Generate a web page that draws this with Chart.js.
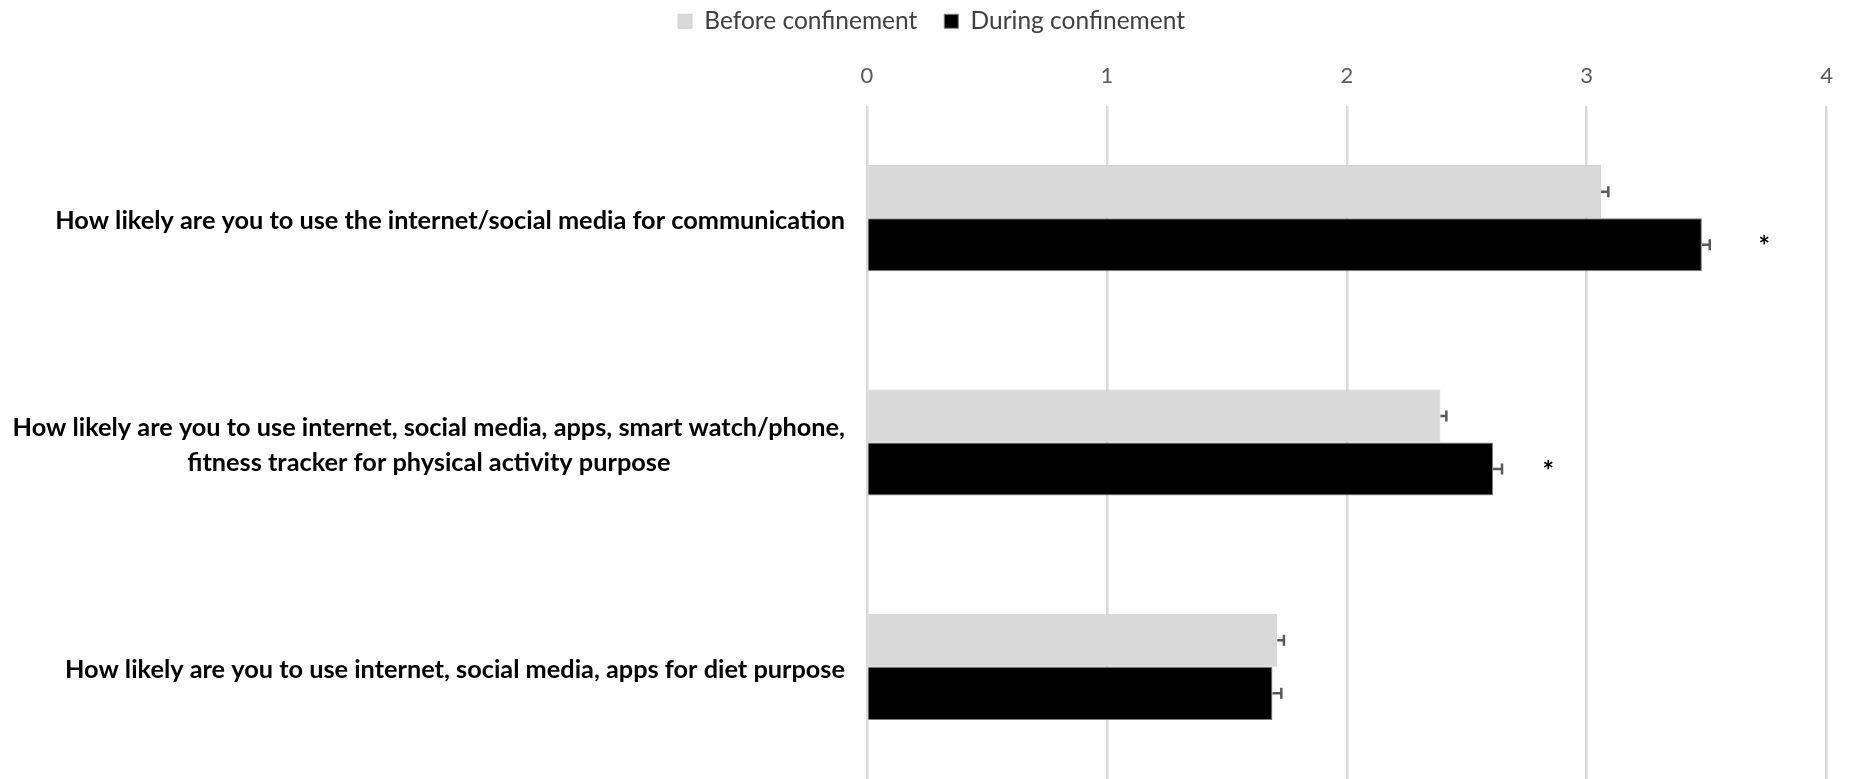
<!DOCTYPE html>
<html>
<head>
<meta charset="utf-8">
<script src="https://cdn.jsdelivr.net/npm/chart.js@4.4.1/dist/chart.umd.min.js"></script>
<style>
  html, body { margin: 0; padding: 0; background: #fff; }
  #wrap { width: 1850px; height: 779px; }
</style>
</head>
<body>
<div id="wrap"><canvas id="chart" width="1850" height="779"></canvas></div>
<script>
/* --- Data --- */
var CATEGORIES = [
  ["How likely are you to use the internet/social media for communication"],
  ["How likely are you to use internet, social media, apps, smart watch/phone,",
   "fitness tracker for physical activity purpose"],
  ["How likely are you to use internet, social media, apps for diet purpose"]
];
var SERIES_NAMES = ["Before confinement", "During confinement"];
var BEFORE = [3.06, 2.39, 1.71];
var DURING = [3.48, 2.61, 1.69];
var BEFORE_SE = [0.03, 0.025, 0.028];
var DURING_SE = [0.033, 0.037, 0.037];
var STAR_X = [3.74, 2.84, null];
var X_TICKS = [0, 1, 2, 3, 4];

var LABEL_FONT = 'bold 25.3px Lato, "Open Sans", sans-serif';
var PLOT_TOP = 106;
var PLOT_LEFT = 867;
var PAD_TOP = -18;
var PAD_LEFT = 24;

/* error bars (plus side, capped) + significance stars */
var errorBars = {
  id: "errorBars",
  afterDatasetsDraw: function (chart) {
    var ctx = chart.ctx;
    var xs = chart.scales.x;
    var ses = [BEFORE_SE, DURING_SE];
    ctx.save();
    ctx.strokeStyle = "#595959";
    ctx.lineWidth = 2.5;
    chart.data.datasets.forEach(function (ds, di) {
      var meta = chart.getDatasetMeta(di);
      meta.data.forEach(function (bar, i) {
        var x0 = xs.getPixelForValue(ds.data[i]);
        var x1 = xs.getPixelForValue(ds.data[i] + ses[di][i]);
        ctx.beginPath();
        ctx.moveTo(x0, bar.y);
        ctx.lineTo(x1, bar.y);
        ctx.moveTo(x1, bar.y - 5.5);
        ctx.lineTo(x1, bar.y + 5.5);
        ctx.stroke();
      });
    });
    var meta2 = chart.getDatasetMeta(1);
    ctx.fillStyle = "#000";
    ctx.font = "bold 27px Lato, sans-serif";
    ctx.textAlign = "center";
    ctx.textBaseline = "middle";
    STAR_X.forEach(function (v, i) {
      if (v === null) return;
      ctx.fillText("*", xs.getPixelForValue(v), meta2.data[i].y + 2);
    });
    ctx.restore();
  }
};

/* category labels: block right-aligned, lines centred within it */
var catLabels = {
  id: "catLabels",
  afterDraw: function (chart) {
    var ctx = chart.ctx;
    var ys = chart.scales.y;
    var right = chart.chartArea.left - 22;
    var lineH = 35;
    ctx.save();
    ctx.font = LABEL_FONT;
    ctx.fillStyle = "#000";
    ctx.textAlign = "center";
    ctx.textBaseline = "middle";
    CATEGORIES.forEach(function (lines, i) {
      var w = 0;
      lines.forEach(function (t) { w = Math.max(w, ctx.measureText(t).width); });
      var cx = right - w / 2;
      var y0 = ys.getPixelForValue(i) + 3 - (lines.length - 1) * lineH / 2;
      lines.forEach(function (t, k) {
        ctx.fillText(t, cx, y0 + k * lineH);
      });
    });
    ctx.restore();
  }
};

new Chart(document.getElementById("chart"), {
  type: "bar",
  data: {
    labels: CATEGORIES.map(function (c) { return c.join(" "); }),
    datasets: [
      {
        label: SERIES_NAMES[0],
        data: BEFORE,
        backgroundColor: "#d9d9d9",
        borderColor: "#d0d0d0",
        borderWidth: 1,
        barPercentage: 1,
        categoryPercentage: 0.473
      },
      {
        label: SERIES_NAMES[1],
        data: DURING,
        backgroundColor: "#000000",
        borderColor: "#7f7f7f",
        borderWidth: 1,
        barPercentage: 1,
        categoryPercentage: 0.473
      }
    ]
  },
  options: {
    indexAxis: "y",
    responsive: false,
    animation: false,
    layout: { padding: { left: PAD_LEFT, right: 11, top: PAD_TOP, bottom: 0 } },
    plugins: {
      legend: {
        position: "top",
        labels: {
          color: "#404040",
          font: { family: "Lato, sans-serif", size: 24.5 },
          boxWidth: 14,
          boxHeight: 14,
          padding: 27
        }
      },
      tooltip: { enabled: false }
    },
    scales: {
      x: {
        position: "top",
        min: 0,
        max: 4,
        afterBuildTicks: function (s) {
          s.ticks = X_TICKS.map(function (v) { return { value: v }; });
        },
        afterFit: function (s) {
          var lh = s.chart.legend ? s.chart.legend.height : 0;
          s.height = PLOT_TOP - PAD_TOP - lh;
        },
        grid: { color: "#d9d9d9", lineWidth: 2.5, drawTicks: false },
        border: { display: false },
        ticks: {
          color: "#595959",
          font: { family: "Lato, sans-serif", size: 22 },
          padding: 17
        }
      },
      y: {
        grid: { display: false },
        border: { display: false },
        ticks: { display: false },
        afterFit: function (s) { s.width = PLOT_LEFT - PAD_LEFT; }
      }
    }
  },
  plugins: [errorBars, catLabels]
});
</script>
</body>
</html>
